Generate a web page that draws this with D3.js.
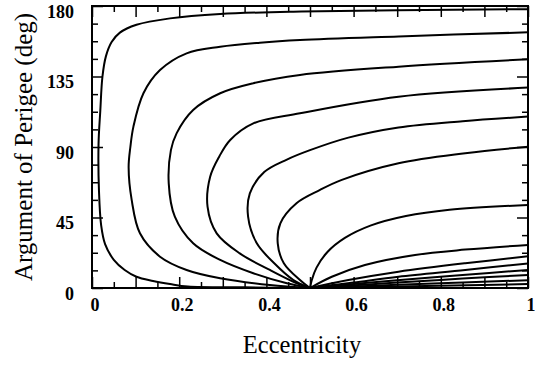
<!DOCTYPE html>
<html>
<head>
<meta charset="utf-8">
<script src="https://cdn.jsdelivr.net/npm/d3@7"></script>
<style>
  html, body { margin: 0; padding: 0; background: #fff; }
  svg { display: block; }
  text { font-family: "Liberation Serif", "Times New Roman", serif; fill: #000; }
</style>
</head>
<body>
<svg id="chart" width="535" height="365"></svg>
<script>
// Eccentricity / argument-of-perigee trajectories, all passing through (0.5, 0°).
// Each trajectory is a list of [eccentricity, argument of perigee in degrees].

// Trajectories that wrap around the low-eccentricity side
const loopOuter1 = [[0.5,0],[0.35,0.4],[0.22,0.9],[0.179,2.5],[0.14,4.5],[0.102,7.2],[0.075,11.5],[0.05,18],[0.03,28],[0.021,40],[0.016,62],[0.015,92],[0.019,113],[0.024,135],[0.032,148],[0.045,157],[0.064,163],[0.102,168],[0.179,172.1],[0.294,174.9],[0.48,176.5],[0.7,177.3],[1,178]];
const loopOuter2 = [[0.5,0],[0.408,1.9],[0.294,6.2],[0.217,11.5],[0.156,20],[0.11,34.9],[0.091,56.2],[0.084,77],[0.088,90],[0.095,103],[0.118,124.3],[0.156,139.1],[0.217,149.8],[0.294,154],[0.385,156.6],[0.477,158.3],[0.703,160.6],[1,163.2]];
const loopMid3   = [[0.5,0],[0.447,3],[0.37,9.4],[0.294,17.9],[0.232,28.5],[0.19,45.5],[0.176,66.8],[0.181,88],[0.194,98.7],[0.232,113.6],[0.294,124.3],[0.37,130.7],[0.477,136],[0.703,141.3],[1,146]];
const loopMid4   = [[0.5,0],[0.462,4],[0.408,11.5],[0.339,22.1],[0.286,34.9],[0.265,51.9],[0.271,71],[0.292,84],[0.317,94.5],[0.37,105.1],[0.477,111.5],[0.703,122.1],[1,127.9]];
const loopInner5 = [[0.5,0],[0.462,5.1],[0.418,15.8],[0.378,28.5],[0.358,45.5],[0.362,60.4],[0.395,74],[0.447,82],[0.5,88],[0.588,96],[0.703,102.5],[0.85,106.5],[1,109.4]];
const loopInner6 = [[0.5,0],[0.477,5.1],[0.44,15.8],[0.426,28.5],[0.432,41.3],[0.469,54.1],[0.523,62.6],[0.573,69],[0.703,79.6],[0.856,86],[1,90.2]];

// Trajectories that open toward high eccentricity
const fan1 = [[0.5,0],[0.504,5],[0.515,13],[0.54,23],[0.58,32],[0.64,40],[0.72,46],[0.82,50],[1,53]];
const fan2 = [[0.5,0],[0.55,7.2],[0.626,14.7],[0.741,21.1],[0.856,24.5],[1,27.5]];
const fan3 = [[0.5,0],[0.588,5.1],[0.703,10.4],[0.856,15.8],[1,20.2]];
const fan4 = [[0.5,0],[0.6,3.5],[0.703,7.2],[0.856,11.5],[1,15.7]];
const fan5 = [[0.5,0],[0.6,2.5],[0.7,5],[0.85,8.3],[1,11.5]];
const fan6 = [[0.5,0],[0.6,1.7],[0.7,3.5],[0.85,6],[1,8.3]];
const fan7 = [[0.5,0],[0.6,1],[0.7,2],[0.85,3.5],[1,5]];
const fan8 = [[0.5,0],[0.7,1],[1,2.5]];

const trajectories = [loopOuter1, loopOuter2, loopMid3, loopMid4, loopInner5, loopInner6,
                      fan1, fan2, fan3, fan4, fan5, fan6, fan7, fan8];

// Axis ticks
const eccTickLabels = [0, 0.2, 0.4, 0.6, 0.8, 1];
const perigeeTickLabels = [0, 45, 90, 135, 180];
const xTitle = "Eccentricity";
const yTitle = "Argument of Perigee (deg)";

const svg = d3.select("#chart");
const margin = { left: 92, right: 7, top: 6, bottom: 77 };
const W = 535, H = 365;
const x = d3.scaleLinear().domain([0, 1]).range([margin.left, W - margin.right]);
const y = d3.scaleLinear().domain([0, 180]).range([H - margin.bottom, margin.top]);

svg.append("clipPath").attr("id", "plotClip")
  .append("rect")
  .attr("x", x(0)).attr("y", y(180))
  .attr("width", x(1) - x(0)).attr("height", y(0) - y(180));

// Trajectory curves
const line = d3.line()
  .x(d => x(d[0]))
  .y(d => y(d[1]))
  .curve(d3.curveCatmullRom.alpha(0.5));

svg.append("g").attr("clip-path", "url(#plotClip)")
  .selectAll("path")
  .data(trajectories)
  .join("path")
  .attr("d", line)
  .attr("fill", "none")
  .attr("stroke", "#000")
  .attr("stroke-width", 2)
  .attr("stroke-linejoin", "round");

// Inward ticks on all four sides: long every 0.1 / 45°, short in between
const eccMajor = d3.range(0, 1.0001, 0.1);
const eccMinor = d3.range(0.05, 1, 0.1);
const perMajor = d3.range(0, 180.01, 45);
const perMinor = d3.range(0, 180.01, 11.25).filter(v => v % 45 !== 0);
const LONG = 11, SHORT = 6;

function tickPair(axisFn, scale, major, minor) {
  return {
    major: axisFn(scale).tickValues(major).tickSize(LONG).tickFormat(""),
    minor: axisFn(scale).tickValues(minor).tickSize(SHORT).tickFormat("")
  };
}

const ticksBottom = tickPair(d3.axisTop, x, eccMajor, eccMinor);
const ticksTop = tickPair(d3.axisBottom, x, eccMajor, eccMinor);
const ticksLeft = tickPair(d3.axisRight, y, perMajor, perMinor);
const ticksRight = tickPair(d3.axisLeft, y, perMajor, perMinor);

function drawTicks(pair, transform) {
  ["major", "minor"].forEach(k => {
    const g = svg.append("g").attr("transform", transform).call(pair[k]);
    g.select(".domain").remove();
    g.selectAll("line").attr("stroke", "#000").attr("stroke-width", 1.5);
  });
}
drawTicks(ticksBottom, `translate(0,${y(0)})`);
drawTicks(ticksTop, `translate(0,${y(180)})`);
drawTicks(ticksLeft, `translate(${x(0)},0)`);
drawTicks(ticksRight, `translate(${x(1)},0)`);

// Frame
svg.append("rect")
  .attr("x", x(0)).attr("y", y(180))
  .attr("width", x(1) - x(0)).attr("height", y(0) - y(180))
  .attr("fill", "none").attr("stroke", "#000").attr("stroke-width", 2);

// Tick labels
const fmt = d => (d === 0 || d === 1) ? String(d) : d.toFixed(1);
svg.append("g")
  .selectAll("text")
  .data(eccTickLabels)
  .join("text")
  .attr("x", d => x(d) + 3)
  .attr("y", y(0) + 23)
  .attr("text-anchor", "middle")
  .attr("font-size", 18)
  .attr("font-weight", "bold")
  .text(fmt);

svg.append("g")
  .selectAll("text")
  .data(perigeeTickLabels)
  .join("text")
  .attr("x", x(0) - 18)
  .attr("y", d => y(d) + 11.5)
  .attr("text-anchor", "end")
  .attr("font-size", 18)
  .attr("font-weight", "bold")
  .text(d => d);

// Axis titles
svg.append("text")
  .attr("x", 302)
  .attr("y", 353)
  .attr("text-anchor", "middle")
  .attr("font-size", 24.5)
  .text(xTitle);

svg.append("text")
  .attr("transform", `translate(32,${(y(0) + y(180)) / 2}) rotate(-90)`)
  .attr("text-anchor", "middle")
  .attr("font-size", 25)
  .text(yTitle);
</script>
</body>
</html>
